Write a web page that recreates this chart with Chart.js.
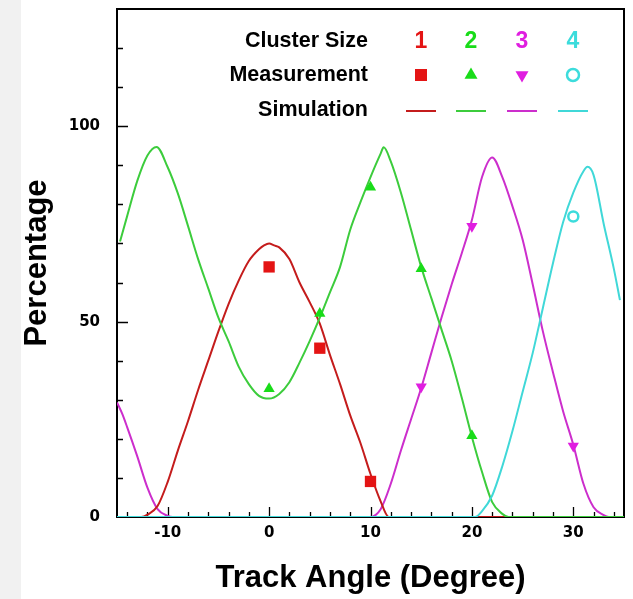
<!DOCTYPE html>
<html>
<head>
<meta charset="utf-8">
<script src="https://cdn.jsdelivr.net/npm/chart.js@4/dist/chart.umd.min.js"></script>
<style>
    html, body { margin: 0; padding: 0; background: #fff; }
    body { width: 633px; height: 599px; position: relative; overflow: hidden; }
    #strip { position: absolute; left: 0; top: 0; width: 21px; height: 599px; background: #f1f1f1; }
    #wrap { position: absolute; left: 0; top: 0; width: 633px; height: 599px; }
</style>
</head>
<body>
<div id="strip"></div>
<div id="wrap"><canvas id="myChart" width="633" height="599"></canvas></div>
<script>
// cluster sizes (legend columns)
const clusterSizes = ['1', '2', '3', '4'];

// measurement points: track angle (deg) / percentage
const measAngle1 = [0, 5, 10];
const measPct1 = [64, 43.2, 9.1];
const measAngle2 = [0, 5, 10, 15, 20];
const measPct2 = [32.8, 52.1, 84.4, 63.5, 20.8];
const measAngle3 = [15, 20, 30];
const measPct3 = [33.3, 74.4, 18.2];
const measAngle4 = [30];
const measPct4 = [76.9];

// simulation curves
const simAngle1 = [-15, -12.6, -12, -11, -10, -9, -8, -7, -6, -5, -4, -3, -2, -1, -0.5, 0, 0.5, 1, 2, 3, 4, 5, 6, 7, 8, 9, 10, 11, 11.8, 35];
const simPct1 = [0, 0, 0.6, 2.8, 9, 17, 24.5, 32.5, 40, 47.5, 54.5, 60.5, 65.5, 68.5, 69.5, 70, 69.5, 69, 66, 60, 55, 49.5, 41.5, 34, 26, 19, 11, 4, 0, 0];
const simAngle2 = [-14.7, -14, -13, -12, -11.1, -10, -9, -8, -7, -6, -5, -4, -3, -2, -1, 0, 1, 2, 3, 4, 5, 6, 7, 8, 9, 10, 11, 11.3, 12, 13, 14, 15, 16, 17, 18, 19, 20, 21, 22, 23, 23.6, 35];
const simPct2 = [70.5, 77, 86, 92.5, 94.7, 89.5, 82.8, 74.5, 66, 58.5, 51, 45, 38.5, 34, 31, 30.3, 31.5, 34.5, 39.5, 45, 51, 57.5, 64, 73.5, 80.5, 87, 93, 94.6, 91, 83, 73.5, 64, 56, 48, 40, 30.5, 20.5, 11.5, 3.8, 0.8, 0, 0];
const simAngle3 = [-15, -14.5, -14, -13, -12, -11, -10, -9.5, 9.9, 11, 12, 13, 14, 15, 16, 17, 18, 19, 20, 21, 22, 23, 24, 25, 26, 27, 28, 29, 30, 31, 32, 33, 33.5, 35];
const simPct3 = [29.3, 26.5, 23, 15.5, 7.5, 2, 0.3, 0, 0, 2, 8.5, 17, 25, 33, 42, 51, 59.5, 67.5, 76, 87, 92, 87, 79.5, 71, 59.5, 47.5, 37, 27, 18.5, 8.5, 2.5, 0.5, 0, 0];
const simAngle4 = [-15, 20.3, 21, 22, 23, 24, 25, 26, 27, 28, 29, 30, 31, 31.4, 32, 33, 34, 34.6];
const simPct4 = [0, 0, 1.5, 5.5, 13, 22, 32, 42, 53.5, 65, 75.5, 83, 88.5, 89.6, 87.5, 75, 63.5, 55.5];

const markColors = ['#e41414', '#19dc19', '#e01ee0', '#3cdcdc'];
const lineColors = ['#c41c1c', '#3ccc3c', '#cc2ecc', '#40d8d8'];
const markStyles = ['rect', 'triangle', 'triangle', 'circle'];
// lower = drawn on top
const lineOrder = [3, 2, 4, 1];

function pts(xs, ys) {
    return xs.map((x, i) => ({ x: x, y: ys[i] }));
}

const measAngles = [measAngle1, measAngle2, measAngle3, measAngle4];
const measPcts = [measPct1, measPct2, measPct3, measPct4];
const simAngles = [simAngle1, simAngle2, simAngle3, simAngle4];
const simPcts = [simPct1, simPct2, simPct3, simPct4];

const datasets = [];
clusterSizes.forEach((c, i) => {
    datasets.push({
        label: 'Simulation ' + c,
        data: pts(simAngles[i], simPcts[i]),
        showLine: true,
        borderColor: lineColors[i],
        borderWidth: 2,
        pointRadius: 0,
        fill: false,
        cubicInterpolationMode: 'monotone',
        order: lineOrder[i]
    });
});
clusterSizes.forEach((c, i) => {
    datasets.push({
        label: 'Measurement ' + c,
        data: pts(measAngles[i], measPcts[i]),
        showLine: false,
        pointStyle: markStyles[i],
        pointRotation: i === 2 ? 180 : 0,
        pointRadius: i === 0 ? 8 : (i === 3 ? 5 : 6.5),
        backgroundColor: i === 3 ? 'rgba(0,0,0,0)' : markColors[i],
        borderColor: markColors[i],
        borderWidth: i === 3 ? 2.5 : 0,
        order: 0
    });
});

// frame and inward ticks, under the curves
const framePlugin = {
    id: 'frame',
    beforeDatasetsDraw(chart) {
        const { ctx, chartArea: a, scales } = chart;
        ctx.save();
        ctx.strokeStyle = '#000';
        ctx.lineWidth = 1.3;
        ctx.beginPath();
        for (let v = -14; v <= 34; v += 2) {
            const px = Math.round(scales.x.getPixelForValue(v)) + 0.5;
            const len = v % 10 === 0 ? 10 : 5;
            ctx.moveTo(px, a.bottom);
            ctx.lineTo(px, a.bottom - len);
        }
        for (let v = 10; v <= 120; v += 10) {
            const py = Math.round(scales.y.getPixelForValue(v)) + 0.5;
            const len = v % 50 === 0 ? 11 : 6;
            ctx.moveTo(a.left, py);
            ctx.lineTo(a.left + len, py);
        }
        ctx.stroke();

        ctx.lineWidth = 2;
        ctx.strokeRect(a.left, a.top, a.right - a.left, a.bottom - a.top);
        ctx.restore();
    },
    // legend block inside the plot
    afterDraw(chart) {
        const ctx = chart.ctx;
        ctx.save();
        const colX = [421, 471, 522, 573];
        const rowY = [41, 75, 110];
        ctx.fillStyle = '#000';
        ctx.font = 'bold 21.5px "Liberation Sans", Arial, sans-serif';
        ctx.textAlign = 'right';
        ctx.textBaseline = 'middle';
        ctx.fillText('Cluster Size', 368, rowY[0]);
        ctx.fillText('Measurement', 368, rowY[1]);
        ctx.fillText('Simulation', 368, rowY[2]);

        ctx.textAlign = 'center';
        ctx.font = 'bold 23px "Liberation Sans", Arial, sans-serif';
        clusterSizes.forEach((c, i) => {
            const x = colX[i];
            ctx.fillStyle = markColors[i];
            ctx.fillText(c, x, rowY[0] + 1);

            const y = rowY[1];
            ctx.beginPath();
            if (i === 0) {
                ctx.rect(x - 6, y - 6, 12, 12);
                ctx.fill();
            } else if (i === 1) {
                ctx.moveTo(x, y - 7.5);
                ctx.lineTo(x + 6.5, y + 3.8);
                ctx.lineTo(x - 6.5, y + 3.8);
                ctx.closePath();
                ctx.fill();
            } else if (i === 2) {
                ctx.moveTo(x, y + 7.5);
                ctx.lineTo(x + 6.5, y - 3.8);
                ctx.lineTo(x - 6.5, y - 3.8);
                ctx.closePath();
                ctx.fill();
            } else {
                ctx.strokeStyle = markColors[i];
                ctx.lineWidth = 2.5;
                ctx.arc(x, y, 6, 0, Math.PI * 2);
                ctx.stroke();
            }

            ctx.strokeStyle = lineColors[i];
            ctx.lineWidth = 2;
            ctx.beginPath();
            ctx.moveTo(x - 15, rowY[2] + 1);
            ctx.lineTo(x + 15, rowY[2] + 1);
            ctx.stroke();
        });
        ctx.restore();
    }
};

const tickFont = { family: '"DejaVu Sans", sans-serif', size: 15, weight: 'bold' };
const titleFont = { family: '"Liberation Sans", Arial, sans-serif', size: 31, weight: 'bold', lineHeight: 1.2 };

const ctx = document.getElementById('myChart').getContext('2d');
window.myChart = new Chart(ctx, {
    type: 'scatter',
    data: { datasets: datasets },
    options: {
        responsive: false,
        maintainAspectRatio: false,
        devicePixelRatio: 1,
        animation: false,
        layout: { padding: { left: 0, top: 9, right: 9, bottom: 0 } },
        plugins: {
            legend: { display: false },
            tooltip: { enabled: false }
        },
        scales: {
            x: {
                type: 'linear',
                min: -15,
                max: 35,
                grid: { display: false, drawTicks: false },
                border: { display: false },
                ticks: {
                    stepSize: 5,
                    autoSkip: false,
                    color: '#000',
                    font: tickFont,
                    padding: 7,
                    maxRotation: 0,
                    callback: v => (v % 10 === 0 ? String(v) : '')
                },
                title: {
                    display: true,
                    text: 'Track Angle (Degree)',
                    color: '#000',
                    font: titleFont,
                    padding: { top: 0, bottom: 2 }
                },
                afterFit(scale) {
                    scale.height = 82;
                    scale.paddingLeft = 0;
                    scale.paddingRight = 0;
                }
            },
            y: {
                type: 'linear',
                min: 0,
                max: 130,
                grid: { display: false, drawTicks: false },
                border: { display: false },
                ticks: {
                    stepSize: 50,
                    includeBounds: false,
                    color: '#000',
                    font: tickFont,
                    padding: 17,
                    callback: v => (v % 50 === 0 ? String(v) : '')
                },
                title: {
                    display: true,
                    text: 'Percentage',
                    color: '#000',
                    font: titleFont,
                    padding: { top: 19, bottom: 0 }
                },
                afterFit(scale) {
                    scale.width = 117;
                    scale.paddingTop = 0;
                    scale.paddingBottom = 0;
                }
            }
        }
    },
    plugins: [framePlugin]
});
</script>
</body>
</html>
